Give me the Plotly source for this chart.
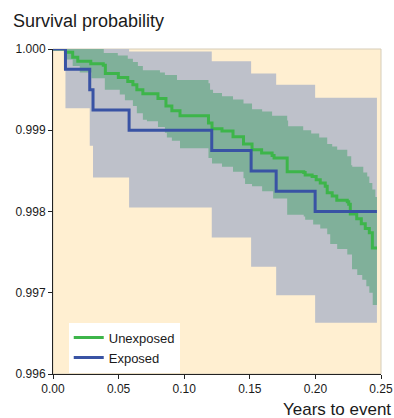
import plotly.graph_objects as go

END_T = 0.2469

# Exposed (blue) Kaplan-Meier estimate and 95% CI
exp_t = [0.0095, 0.0280, 0.0305, 0.0580, 0.1210, 0.1510, 0.1701, 0.1998]
exp_s = [0.99975, 0.9995, 0.99925, 0.9990, 0.99875, 0.9985, 0.99825, 0.9980]
exp_lo = [0.99927, 0.99881, 0.99842, 0.99805, 0.99768, 0.99732, 0.99697, 0.99663]
exp_hi = [1.0, 1.0, 1.0, 0.99997, 0.99985, 0.99970, 0.99956, 0.99940]

# Unexposed (green) Kaplan-Meier estimate
unexp_t = [0.0095, 0.0150, 0.0189, 0.0288, 0.0383, 0.0399, 0.0498, 0.0570,
           0.0609, 0.0639, 0.0685, 0.0800, 0.0861, 0.0906, 0.0968, 0.1185,
           0.1212, 0.1288, 0.1372, 0.1452, 0.1517, 0.1590, 0.1670, 0.1685,
           0.1785, 0.1911, 0.1922, 0.1975, 0.2006, 0.2037, 0.2075, 0.2090,
           0.2128, 0.2163, 0.2243, 0.2254, 0.2266, 0.2315, 0.2350, 0.2380,
           0.2411, 0.2434]
unexp_s = [0.99996, 0.99990, 0.99985, 0.99982, 0.99980, 0.99970, 0.99965, 0.99960,
           0.99956, 0.99950, 0.99945, 0.99939, 0.99930, 0.99924, 0.99918, 0.99909,
           0.99902, 0.99899, 0.99892, 0.99883, 0.99876, 0.99872, 0.99869, 0.99866,
           0.99849, 0.99848, 0.99845, 0.99843, 0.99839, 0.99835, 0.99831, 0.99823,
           0.99819, 0.99814, 0.99812, 0.99809, 0.99797, 0.99791, 0.99785, 0.99779,
           0.99774, 0.99755]

# Unexposed 95% CI upper bound
unexp_hi_t = [0.0095, 0.0387, 0.0494, 0.0570, 0.0609, 0.0647, 0.0685, 0.0815,
              0.0853, 0.0945, 0.1185, 0.1197, 0.1220, 0.1288, 0.1372, 0.1452,
              0.1517, 0.1594, 0.1670, 0.1785, 0.1792, 0.1907, 0.1968, 0.2029,
              0.2090, 0.2128, 0.2166, 0.2243, 0.2273, 0.2281, 0.2365, 0.2395,
              0.2411, 0.2434, 0.2457]
unexp_hi = [1.0, 0.99995, 0.99992, 0.99988, 0.99984, 0.99979, 0.99974, 0.99971,
            0.99968, 0.99962, 0.99958, 0.99950, 0.99946, 0.99942, 0.99938, 0.99933,
            0.99926, 0.99923, 0.99918, 0.99912, 0.99905, 0.99900, 0.99896, 0.99891,
            0.99883, 0.99880, 0.99876, 0.99868, 0.99857, 0.99855, 0.99848, 0.99843,
            0.99835, 0.99827, 0.99818]

# Unexposed 95% CI lower bound
unexp_lo_t = [0.0095, 0.0150, 0.0204, 0.0293, 0.0395, 0.0509, 0.0548, 0.0609,
              0.0639, 0.0685, 0.0716, 0.0800, 0.0853, 0.0868, 0.0906, 0.0968,
              0.1185, 0.1212, 0.1288, 0.1372, 0.1452, 0.1464, 0.1517, 0.1594,
              0.1678, 0.1785, 0.1911, 0.1922, 0.1983, 0.2037, 0.2090, 0.2113,
              0.2166, 0.2243, 0.2279, 0.2319, 0.2357, 0.2388, 0.2411, 0.2437]
unexp_lo = [0.99987, 0.99979, 0.99971, 0.99964, 0.99950, 0.99944, 0.99937, 0.99930,
            0.99921, 0.99913, 0.99911, 0.99904, 0.99897, 0.99891, 0.99887, 0.99878,
            0.99866, 0.99859, 0.99855, 0.99849, 0.99841, 0.99834, 0.99831, 0.99825,
            0.99816, 0.99796, 0.99794, 0.99790, 0.99784, 0.99779, 0.99772, 0.99760,
            0.99754, 0.99747, 0.99729, 0.99722, 0.99716, 0.99708, 0.99700, 0.99685]

x_ticks = [0.00, 0.05, 0.10, 0.15, 0.20, 0.25]
y_ticks = [0.996, 0.997, 0.998, 0.999, 1.000]

FONT = "Liberation Sans, Arial, Helvetica, sans-serif"
GREY_FILL = "#BEC1CA"
GREEN_FILL = "#80B09A"
BLUE = "#3953A4"
GREEN = "#3DB54A"


def step_xy(t, v, start=None):
    x = list(t) + [END_T]
    y = list(v) + [v[-1]]
    if start is not None:
        x = [0.0] + x
        y = [start] + y
    return x, y


fig = go.Figure()

# grey band (exposed CI)
x, y = step_xy(exp_t, exp_lo)
fig.add_trace(go.Scatter(x=x, y=y, mode="lines", line=dict(width=0, shape="hv"),
                         showlegend=False, hoverinfo="skip"))
x, y = step_xy(exp_t, exp_hi)
fig.add_trace(go.Scatter(x=x, y=y, mode="lines", line=dict(width=0, shape="hv"),
                         fill="tonexty", fillcolor=GREY_FILL,
                         showlegend=False, hoverinfo="skip"))

# green band (unexposed CI)
x, y = step_xy(unexp_lo_t, unexp_lo)
fig.add_trace(go.Scatter(x=x, y=y, mode="lines", line=dict(width=0, shape="hv"),
                         showlegend=False, hoverinfo="skip"))
x, y = step_xy(unexp_hi_t, unexp_hi)
fig.add_trace(go.Scatter(x=x, y=y, mode="lines", line=dict(width=0, shape="hv"),
                         fill="tonexty", fillcolor=GREEN_FILL,
                         showlegend=False, hoverinfo="skip"))

# survival curves
x, y = step_xy(unexp_t, unexp_s, start=1.0)
fig.add_trace(go.Scatter(x=x, y=y, mode="lines", name="Unexposed",
                         line=dict(color=GREEN, width=3, shape="hv")))
x, y = step_xy(exp_t, exp_s, start=1.0)
fig.add_trace(go.Scatter(x=x, y=y, mode="lines", name="Exposed",
                         line=dict(color=BLUE, width=3, shape="hv")))

fig.update_layout(
    width=394, height=418,
    autosize=False,
    margin=dict(l=53.3, r=13.3, t=49.2, b=44, autoexpand=False),
    paper_bgcolor="white",
    plot_bgcolor="#FFEFD1",
    font=dict(family=FONT, size=12, color="#1a1a1a"),
    showlegend=True,
    legend=dict(x=0.048, y=0.158, xanchor="left", yanchor="top",
                traceorder="normal",
                bgcolor="white", borderwidth=0,
                font=dict(family=FONT, size=13, color="#1a1a1a")),
    xaxis=dict(range=[0, 0.25], tickvals=x_ticks, tickformat=".2f",
               showgrid=False, zeroline=False, showline=True,
               linecolor="#222", linewidth=1, ticks="outside", ticklen=4,
               tickcolor="#222", tickfont=dict(size=12)),
    yaxis=dict(range=[0.996, 1.000], tickvals=y_ticks, tickformat=".3f",
               showgrid=False, zeroline=False, showline=True,
               linecolor="#222", linewidth=1, ticks="outside", ticklen=4,
               tickcolor="#222", tickfont=dict(size=12)),
    shapes=[dict(type="rect", xref="paper", yref="paper", x0=0, x1=1, y0=0, y1=1,
                 line=dict(color="#D6CDB9", width=1), layer="below")],
    annotations=[
        dict(text="Survival probability", xref="paper", yref="paper",
             x=-0.129, y=1.0853, xanchor="left", yanchor="middle",
             showarrow=False, font=dict(family=FONT, size=18, color="#1a1a1a")),
        dict(text="Years to event", xref="paper", yref="paper",
             x=1.036, y=-0.110, xanchor="right", yanchor="middle",
             showarrow=False, font=dict(family=FONT, size=17, color="#1a1a1a")),
    ],
)

fig.write_html(
    "out.html",
    config={"displayModeBar": False},
    post_script="document.body.style.margin='0';document.body.style.padding='0';"
                "document.body.style.overflow='hidden';",
)
